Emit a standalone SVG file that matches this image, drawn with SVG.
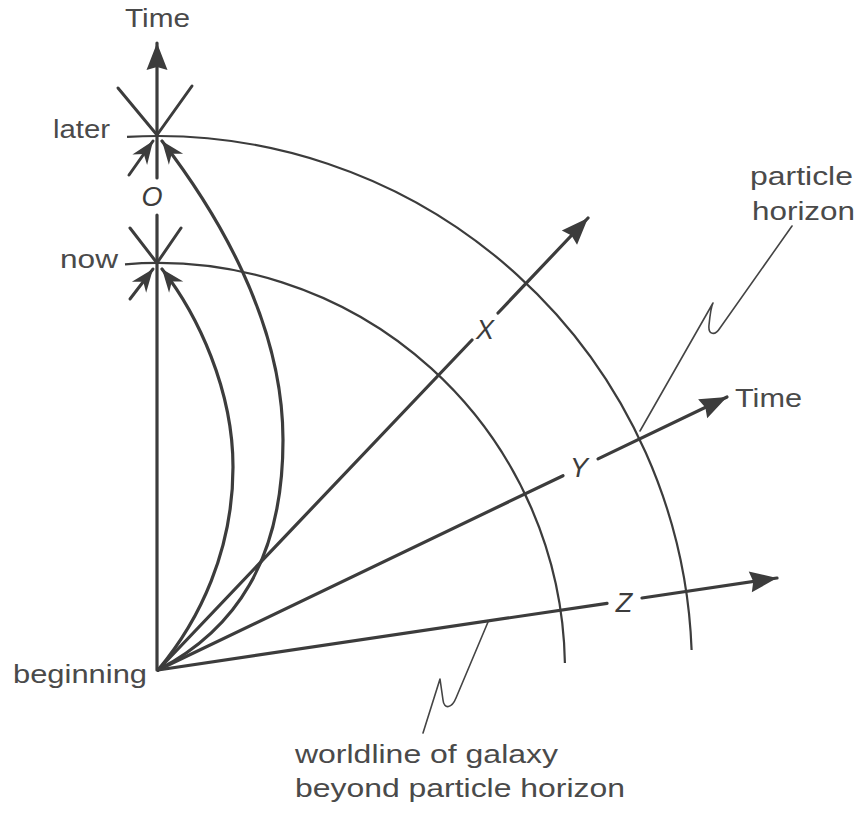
<svg xmlns="http://www.w3.org/2000/svg" width="865" height="815" viewBox="0 0 865 815">
<style>
.t{font-family:"Liberation Sans",Arial,sans-serif;font-size:26px;fill:#4a4a4a}
.it{font-family:"Liberation Sans",Arial,sans-serif;font-size:27px;font-style:italic;fill:#3c3c3c}
.thick{fill:none;stroke:#3c3c3c;stroke-width:3.2;stroke-linecap:round}
.mid{fill:none;stroke:#3c3c3c;stroke-width:3;stroke-linecap:round}
.arc{fill:none;stroke:#3c3c3c;stroke-width:2.2}
.lead{fill:none;stroke:#444;stroke-width:1.6;stroke-linejoin:round;stroke-linecap:round}
</style>
<defs>
<marker id="big" markerUnits="userSpaceOnUse" markerWidth="40" markerHeight="40" orient="auto" overflow="visible">
<path d="M0,0 L-27,-10.5 L-24,0 L-27,10.5 Z" fill="#3c3c3c"/>
</marker>
<marker id="small" markerUnits="userSpaceOnUse" markerWidth="40" markerHeight="40" orient="auto" overflow="visible">
<path d="M0,0 L-23,-9 L-16,0 L-23,9 Z" fill="#3c3c3c"/>
</marker>
</defs>
<rect width="865" height="815" fill="#fff"/>

<g id="arcs">
<path class="arc" d="M127,136.9 A534,534 0 0 1 691.6,650"/>
<path class="arc" d="M125,264.3 A407,407 0 0 1 564.9,663"/>
</g>

<g id="time-axis">
<line class="thick" x1="157" y1="670" x2="157" y2="215"/>
<line class="thick" x1="157" y1="178" x2="157" y2="43" marker-end="url(#big)"/>
<text class="t" x="125" y="27" textLength="65" lengthAdjust="spacingAndGlyphs">Time</text>
<text class="it" x="152" y="206" text-anchor="middle">O</text>
</g>

<g id="later">
<line class="mid" x1="118" y1="88" x2="157" y2="135"/>
<line class="mid" x1="192" y1="86" x2="157" y2="135"/>
<line class="mid" x1="129" y1="175" x2="153" y2="141" marker-end="url(#small)"/>
<text class="t" x="53" y="138" textLength="57" lengthAdjust="spacingAndGlyphs">later</text>
</g>

<g id="now">
<line class="mid" x1="130" y1="228" x2="157" y2="263"/>
<line class="mid" x1="181" y1="228" x2="157" y2="263"/>
<line class="mid" x1="130" y1="299" x2="153" y2="269" marker-end="url(#small)"/>
<text class="t" x="60" y="268" textLength="58" lengthAdjust="spacingAndGlyphs">now</text>
</g>

<g id="beginning">
<text class="t" x="13" y="683" textLength="134" lengthAdjust="spacingAndGlyphs">beginning</text>
</g>

<g id="galaxy-x">
<text class="it" x="485" y="339" text-anchor="middle">X</text>
</g>
<g id="galaxy-y">
<text class="it" x="579" y="477" text-anchor="middle">Y</text>
<text class="t" x="735" y="407" textLength="67" lengthAdjust="spacingAndGlyphs">Time</text>
</g>
<g id="galaxy-z">
<text class="it" x="624" y="612" text-anchor="middle">Z</text>
</g>

<g id="particle-horizon-label">
<text class="t" x="750" y="185" textLength="103" lengthAdjust="spacingAndGlyphs">particle</text>
<text class="t" x="752" y="220" textLength="103" lengthAdjust="spacingAndGlyphs">horizon</text>
</g>

<g id="worldline-label">
<text class="t" x="295" y="763" textLength="263" lengthAdjust="spacingAndGlyphs">worldline of galaxy</text>
<text class="t" x="295" y="797" textLength="330" lengthAdjust="spacingAndGlyphs">beyond particle horizon</text>
</g>

<g id="connectors">
<path class="thick" d="M158,670 C235,630 283,560 283,440 C283,320 215,210 162,141" marker-end="url(#small)"/>
<path class="thick" d="M158,670 C200,620 233,550 233,467 C233,390 198,315 162,269" marker-end="url(#small)"/>
<line class="thick" x1="158" y1="670" x2="472" y2="340"/>
<line class="thick" x1="498" y1="313" x2="588" y2="218" marker-end="url(#big)"/>
<line class="thick" x1="158" y1="670" x2="563" y2="475.7"/>
<line class="thick" x1="598" y1="458.9" x2="727" y2="397" marker-end="url(#big)"/>
<line class="thick" x1="158" y1="670" x2="607" y2="603.3"/>
<line class="thick" x1="642" y1="598" x2="777" y2="578" marker-end="url(#big)"/>
<path class="lead" d="M792,226 L720,328 C715,336 708,335 709,325 C710,315 711,307 713,303 L640,431"/>
<path class="lead" d="M488,622 L456,698 C452,708 444,710 443,700 L440,679 L423,733"/>
</g>
</svg>
